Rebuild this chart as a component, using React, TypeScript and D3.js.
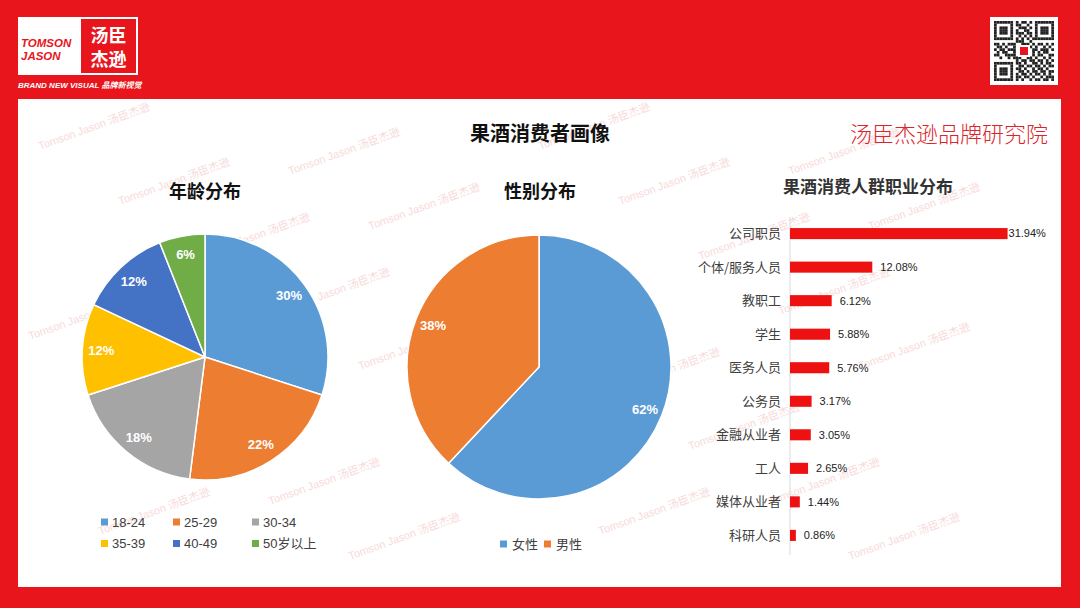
import React from "react";
import * as d3 from "d3";

const ageLabels = ["18-24", "25-29", "30-34", "35-39", "40-49", "50岁以上"];
const ageValues = [30, 22, 18, 12, 12, 6];
const ageColors = ["#5B9BD5", "#ED7D31", "#A5A5A5", "#FFC000", "#4472C4", "#70AD47"];

const genderLabels = ["女性", "男性"];
const genderValues = [62, 38];
const genderColors = ["#5B9BD5", "#ED7D31"];

const jobLabels = ["公司职员", "个体/服务人员", "教职工", "学生", "医务人员", "公务员", "金融从业者", "工人", "媒体从业者", "科研人员"];
const jobValues = [31.94, 12.08, 6.12, 5.88, 5.76, 3.17, 3.05, 2.65, 1.44, 0.86];

const RED = "#E8151C";
const CN = "'Noto Sans CJK SC', 'Microsoft YaHei', sans-serif";
const NUM = "'Liberation Sans', Arial, 'Noto Sans CJK SC', sans-serif";

function Pie({ cx, cy, r, values, colors, labelR }: any) {
  const pie = d3.pie<number>().sort(null).value((d) => d);
  const arcs = pie(values);
  const arc = d3.arc<any>().innerRadius(0).outerRadius(r);
  const lab = d3.arc<any>().innerRadius(labelR).outerRadius(labelR);
  return (
    <g transform={`translate(${cx},${cy})`}>
      {arcs.map((a, i) => (
        <path key={i} d={arc(a) as string} fill={colors[i]} stroke="#fff" strokeWidth={1.5} />
      ))}
      {arcs.map((a, i) => {
        const [x, y] = lab.centroid(a);
        return (
          <text key={"t" + i} x={x} y={y} dy="0.35em" textAnchor="middle" fill="#fff" fontSize={13} fontWeight="bold" fontFamily={NUM}>
            {a.data + "%"}
          </text>
        );
      })}
    </g>
  );
}

// QR-like pattern rows (decorative)
const qrRows = [
  "1111111010110101111111",
  "1000001011001001000001",
  "1011101001110101011101",
  "1011101010011001011101",
  "1011101011101101011101",
  "1000001001010101000001",
  "1111111010101011111111",
  "0000000011100100000000",
  "1101011100111010110101",
  "0110100101101101001010",
  "1011011100000011011101",
  "0101100100000010101100",
  "1100111101000010110011",
  "0010010111001101001010",
  "0000000010110110110101",
  "1111111011010011010110",
  "1000001001101101101011",
  "1011101011010010110100",
  "1011101001101011011011",
  "1011101010110101101010",
  "1000001011011010010111",
  "1111111010100101101101",
];

export default function App() {
  const W = 1080, H = 608;
  const x = d3.scaleLinear().domain([0, 32]).range([790, 1008]);
  const y = d3.scaleBand<string>().domain(jobLabels).range([217, 552]).paddingInner(0.67).paddingOuter(0.33);

  const wm: { x: number; y: number }[] = [];
  for (let j = -4; j < 14; j++) {
    for (let i = -3; i < 7; i++) {
      const px = 40 + i * 250 + j * 80;
      const py = 150 + j * 55 + (((i % 2) + 2) % 2) * 25;
      if (px > 22 && px + 122 < 1058 && py < 583 && py - 46 > 103) wm.push({ x: px, y: py });
    }
  }

  const qrSize = 60;
  const cell = qrSize / qrRows.length;

  return (
    <svg width={W} height={H} style={{ position: "absolute", left: 0, top: 0, display: "block" }}>
      <rect x={0} y={0} width={W} height={H} fill={RED} />
      {/* panel */}
      <rect x={18} y={99} width={1043} height={488} fill="#fff" />

      {/* watermarks */}
      <g>
        {wm.map((p, i) => (
          <text key={i} x={p.x} y={p.y} transform={`rotate(-20 ${p.x} ${p.y})`} fontSize={11} fill="#f7dada" fontFamily={NUM}>
            Tomson Jason 汤臣杰逊
          </text>
        ))}
      </g>

      {/* logo */}
      <rect x={18} y={17} width={120} height={58} fill="#fff" />
      <rect x={81} y={19} width={55} height={54} fill={RED} />
      <text x={21} y={47} fill={RED} fontSize={11.5} fontWeight="bold" fontStyle="italic" fontFamily={NUM}>TOMSON</text>
      <text x={21} y={60} fill={RED} fontSize={11.5} fontWeight="bold" fontStyle="italic" fontFamily={NUM}>JASON</text>
      <text x={108.5} y={42} fill="#fff" fontSize={18} fontWeight="bold" textAnchor="middle" fontFamily={CN}>汤臣</text>
      <text x={108.5} y={66} fill="#fff" fontSize={18} fontWeight="bold" textAnchor="middle" fontFamily={CN}>杰逊</text>
      <text x={18} y={88} fill="#fff" fontSize={8} fontWeight="bold" fontStyle="italic" fontFamily={NUM}>BRAND NEW VISUAL 品牌新视觉</text>

      {/* QR */}
      <rect x={990} y={17} width={68} height={68} fill="#fff" />
      <g transform="translate(994,21)">
        {qrRows.map((row, r) =>
          row.split("").map((c, k) =>
            c === "1" ? <rect key={r + "-" + k} x={k * cell} y={r * cell} width={cell} height={cell} fill="#222" /> : null
          )
        )}
        <rect x={24} y={24} width={12} height={12} fill="#fff" />
        <rect x={26} y={26} width={8} height={8} fill={RED} />
      </g>

      {/* titles */}
      <text x={540} y={141} textAnchor="middle" fontSize={20} fontWeight="bold" fill="#111" fontFamily={CN}>果酒消费者画像</text>
      <text x={1048} y={142} textAnchor="end" fontSize={22} fill="#D9252B" fontFamily={CN} fontWeight={300}>汤臣杰逊品牌研究院</text>
      <text x={205} y={198} textAnchor="middle" fontSize={18} fontWeight="bold" fill="#111" fontFamily={CN}>年龄分布</text>
      <text x={540} y={198} textAnchor="middle" fontSize={18} fontWeight="bold" fill="#111" fontFamily={CN}>性别分布</text>
      <text x={868} y={193} textAnchor="middle" fontSize={17} fontWeight="bold" fill="#333" fontFamily={CN}>果酒消费人群职业分布</text>

      {/* age pie */}
      <Pie cx={205} cy={357} r={123} values={ageValues} colors={ageColors} labelR={104} />
      {ageLabels.map((l, i) => {
        const col = i % 3, row = Math.floor(i / 3);
        const lx = [101, 173, 252][col];
        const ly = 522 + row * 21.5;
        return (
          <g key={l}>
            <rect x={lx} y={ly - 3.5} width={7} height={7} fill={ageColors[i]} />
            <text x={lx + 11} y={ly} dy="0.35em" fontSize={13} fill="#404040" fontFamily={NUM}>{l}</text>
          </g>
        );
      })}

      {/* gender pie */}
      <Pie cx={539} cy={367} r={132} values={genderValues} colors={genderColors} labelR={114} />
      {genderLabels.map((l, i) => {
        const lx = 500 + i * 44;
        return (
          <g key={l}>
            <rect x={lx} y={540.5} width={7} height={7} fill={genderColors[i]} />
            <text x={lx + 12} y={544} dy="0.35em" fontSize={13} fill="#404040" fontFamily={CN}>{l}</text>
          </g>
        );
      })}

      {/* bar chart */}
      <line x1={790} x2={790} y1={217} y2={555} stroke="#d9d9d9" strokeWidth={1} />
      {jobLabels.map((l, i) => {
        const by = y(l)!;
        const bw = y.bandwidth();
        return (
          <g key={l}>
            <rect x={x(0)} y={by} width={x(jobValues[i]) - x(0)} height={bw} fill="#EE1111" />
            <text x={781} y={by + bw / 2} dy="0.35em" textAnchor="end" fontSize={13} fill="#404040" fontFamily={CN}>{l}</text>
            <text x={x(jobValues[i]) + (i === 0 ? 1 : 8)} y={by + bw / 2} dy="0.35em" fontSize={11} fill="#222" fontFamily={NUM}>
              {jobValues[i].toFixed(2) + "%"}
            </text>
          </g>
        );
      })}
    </svg>
  );
}
